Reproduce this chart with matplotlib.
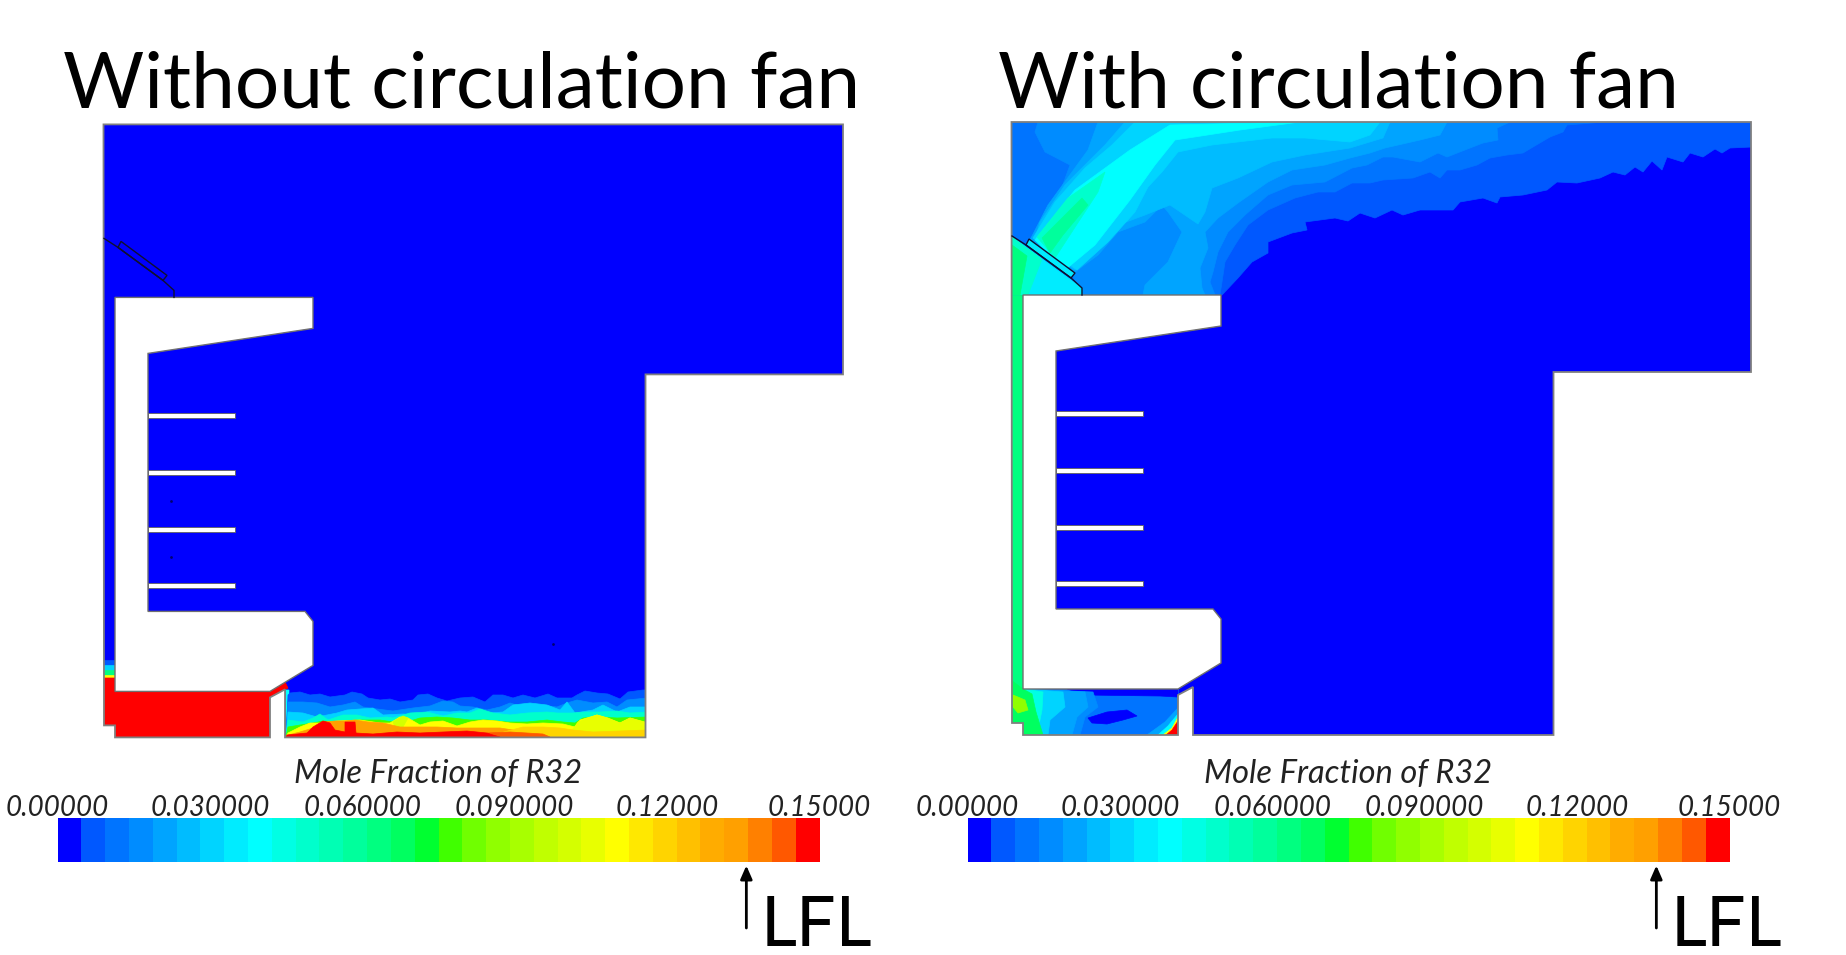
#!/usr/bin/env python3
# Mole fraction of R32 in a room, with and without a circulation fan
import matplotlib
matplotlib.use('Agg')
import matplotlib.pyplot as plt
from matplotlib.patches import Polygon
from matplotlib.colors import ListedColormap
import numpy as np

######################################################################
# Data (outlines in picture pixels of right panel)
######################################################################

PANEL_TITLES = ["Without circulation fan", "With circulation fan"]
SCALE_TITLE = "Mole Fraction of R32"
SCALE_TICKS = [0., 0.03, 0.06, 0.09, 0.12, 0.15]
SCALE_LABELS = ["0.00000", "0.030000", "0.060000", "0.090000", "0.12000",
                "0.15000"]
LFL_VALUE = 0.1356
SCALE_COLORS = [
    '#0000ff', '#0058ff', '#0074ff', '#008cff', '#00a4ff', '#00bcff',
    '#00d4ff', '#00ecff', '#00ffff', '#00ffe4', '#00ffcc', '#00ffb4',
    '#00ff9c', '#00ff80', '#00ff60', '#00ff30', '#40ff00', '#70ff00',
    '#90ff00', '#a8ff00', '#c0ff00', '#d4ff00', '#e8ff00', '#ffff00',
    '#ffe800', '#ffd400', '#ffc000', '#ffac00', '#ffa000', '#ff8000',
    '#ff5800', '#ff0000']

ROOM = [(1011.5, 122), (1751, 122), (1751, 372), (1553.5, 372),
        (1553.5, 735), (1193, 735), (1193, 687), (1178, 695), (1178, 735),
        (1023, 735), (1023, 723), (1012, 723)]
BLOCK = [(1023, 295), (1221, 295), (1221, 326), (1056, 351), (1056, 609),
         (1213, 609), (1221, 619), (1221, 663), (1178, 689), (1023, 689)]
SHELVES = [(1056, 1143, 411), (1056, 1143, 468), (1056, 1143, 525),
           (1056, 1143, 581)]
WEDGE_LINE = [(1012, 236), (1026, 245), (1071, 278), (1082, 288), (1082, 295)]
DUCT = [(1029, 239), (1075, 273), (1071, 278), (1026, 245)]

# Contours with the fan: (colour index, outline)
FAN_TOP = [
    (1, [(1752, 122), (1752, 147), (1730, 148), (1722, 153), (1715, 149),
         (1703, 157), (1690, 153), (1683, 162), (1667, 157), (1662, 170),
         (1652, 161), (1643, 172), (1635, 167), (1625, 175), (1613, 172),
         (1600, 178), (1577, 183), (1557, 182), (1547, 190), (1523, 195),
         (1500, 197), (1497, 203), (1483, 198), (1460, 202), (1453, 210),
         (1420, 210), (1403, 215), (1392, 210), (1375, 218), (1360, 213),
         (1348, 221), (1335, 218), (1305, 222), (1307, 230), (1292, 233),
         (1268, 242), (1268, 253), (1252, 262), (1238, 278), (1222, 295),
         (1011, 295), (1011, 122)]),
    (2, [(1605, 122), (1567, 125), (1563, 132), (1550, 137), (1533, 147),
         (1523, 153), (1507, 155), (1490, 158), (1477, 165), (1460, 170),
         (1447, 170), (1440, 178), (1430, 172), (1413, 178), (1383, 180),
         (1370, 183), (1352, 183), (1335, 192), (1318, 192), (1295, 198),
         (1268, 210), (1248, 225), (1235, 245), (1225, 262), (1222, 282),
         (1220, 295), (1011, 295), (1011, 122)]),
    (3, [(1510, 122), (1497, 128), (1498, 140), (1483, 143), (1470, 148),
         (1447, 157), (1438, 153), (1420, 162), (1393, 157), (1383, 157),
         (1367, 165), (1352, 168), (1325, 182), (1292, 185), (1268, 195),
         (1245, 215), (1228, 232), (1218, 252), (1213, 272), (1210, 282),
         (1215, 295), (1083, 295), (1042, 218), (1062, 187), (1070, 165),
         (1045, 152), (1035, 132), (1038, 122)]),
    (4, [(1098, 122), (1447, 122), (1440, 135), (1420, 140), (1385, 148),
         (1370, 153), (1350, 158), (1325, 165), (1292, 170), (1268, 182),
         (1238, 203), (1218, 218), (1205, 232), (1208, 248), (1200, 268),
         (1202, 288), (1205, 295), (1143, 295), (1145, 285), (1168, 262),
         (1182, 232), (1168, 212), (1162, 205), (1145, 222), (1118, 232),
         (1098, 255), (1075, 272), (1030, 240), (1048, 205), (1072, 172),
         (1088, 150)]),
    (5, [(1125, 122), (1390, 122), (1383, 138), (1350, 148), (1305, 155),
         (1272, 162), (1238, 178), (1212, 188), (1205, 212), (1198, 224),
         (1170, 205), (1145, 215), (1118, 225), (1098, 245), (1075, 270),
         (1035, 240), (1040, 222), (1065, 185), (1085, 165), (1105, 145)]),
    (6, [(1135, 122), (1380, 122), (1370, 135), (1350, 142), (1305, 138),
         (1272, 138), (1212, 145), (1178, 152), (1162, 172), (1148, 187),
         (1135, 212), (1108, 242), (1077, 270), (1033, 238), (1055, 202),
         (1085, 168), (1112, 145)]),
    (8, [(1130, 150), (1170, 125), (1300, 122), (1240, 130), (1175, 140),
         (1155, 165), (1130, 200), (1095, 245), (1065, 270), (1035, 240),
         (1075, 190)]),
    (10, [(1037, 237), (1068, 198), (1105, 172), (1098, 192), (1068, 238),
          (1055, 258)]),
    (12, [(1042, 238), (1082, 198), (1088, 205), (1063, 235), (1050, 253)]),
    (7, [(1012, 237), (1082, 288), (1082, 295), (1011, 295)]),
    (7, DUCT),
    (10, [(1012, 237), (1042, 259), (1028, 295), (1011, 295)]),
    (13, [(1012, 245), (1027, 256), (1020, 295), (1011, 295)]),
    (13, [(1011, 295), (1023, 295), (1023, 690), (1011, 690)]),
    (2, [(1023, 689), (1178, 689), (1178, 735), (1023, 735)]),
    (0, [(1067, 689), (1178, 689), (1178, 697), (1160, 696), (1085, 695)]),
    (3, [(1023, 689), (1093, 692), (1098, 707), (1085, 717), (1080, 735),
         (1023, 735)]),
    (4, [(1023, 689), (1085, 692), (1088, 707), (1077, 717), (1072, 735),
         (1023, 735)]),
    (6, [(1023, 689), (1063, 692), (1065, 707), (1050, 720), (1048, 735),
         (1023, 735)]),
    (9, [(1023, 689), (1043, 692), (1042, 710), (1037, 735), (1023, 735)]),
    (14, [(1011, 680), (1023, 689), (1032, 694), (1036, 712), (1043, 735),
          (1023, 735), (1023, 723), (1011, 723)]),
    (18, [(1013, 695), (1025, 700), (1028, 710), (1018, 713), (1013, 707)]),
    (0, [(1088, 718), (1107, 712), (1127, 710), (1137, 716), (1123, 720),
         (1107, 724), (1092, 723)]),
    (4, [(1178, 708), (1165, 722), (1147, 735), (1178, 735)]),
    (8, [(1178, 714), (1168, 726), (1158, 735), (1178, 735)]),
    (23, [(1178, 717), (1172, 728), (1163, 735), (1178, 735)]),
    (31, [(1178, 721), (1172, 730), (1166, 735), (1178, 735)]),
]

# Contours without the fan, picture pixels of left panel
NOFAN_FLOOR = [
    (1, [(288, 695), (290, 693), (300, 692), (310, 695), (320, 694),
         (330, 697), (345, 695), (352, 692), (362, 694), (368, 698),
         (380, 700), (390, 699), (400, 702), (413, 700), (418, 695),
         (428, 694), (437, 698), (447, 701), (460, 698), (473, 697),
         (485, 702), (493, 695), (503, 695), (513, 698), (523, 695),
         (535, 698), (548, 694), (557, 698), (572, 698), (577, 695),
         (585, 691), (597, 693), (608, 694), (620, 699), (628, 692),
         (643, 690), (647, 690), (647, 737), (286, 737)]),
    (3, [(288, 702), (303, 702), (317, 703), (330, 707), (343, 705),
         (355, 702), (363, 707), (377, 709), (393, 711), (413, 708),
         (430, 706), (443, 701), (453, 702), (460, 706), (473, 707),
         (487, 710), (500, 707), (510, 703), (523, 707), (540, 705),
         (557, 707), (567, 703), (577, 700), (593, 703), (607, 702),
         (617, 707), (627, 700), (647, 698), (647, 737), (286, 737)]),
    (6, [(288, 712), (303, 713), (317, 717), (337, 713), (347, 710),
         (360, 709), (373, 708), (383, 715), (403, 714), (417, 715),
         (430, 711), (450, 712), (460, 711), (467, 712), (477, 708),
         (490, 713), (503, 712), (513, 705), (530, 703), (547, 705),
         (560, 710), (567, 702), (575, 713), (593, 710), (603, 705),
         (617, 712), (630, 707), (647, 707), (647, 737), (286, 737)]),
    (10, [(288, 720), (303, 722), (313, 718), (320, 714), (328, 720),
          (343, 715), (357, 715), (370, 718), (387, 717), (393, 718),
          (410, 713), (427, 712), (443, 716), (457, 713), (470, 713),
          (480, 709), (493, 713), (510, 715), (527, 713), (547, 712),
          (557, 713), (573, 713), (585, 712), (600, 712), (617, 711),
          (630, 713), (647, 712), (647, 737), (286, 737)]),
    (16, [(288, 727), (300, 725), (313, 723), (323, 721), (335, 722),
          (357, 720), (380, 720), (393, 722), (407, 722), (420, 718),
          (437, 717), (453, 718), (470, 720), (487, 720), (507, 722),
          (527, 722), (547, 720), (563, 722), (575, 723), (583, 718),
          (600, 717), (617, 718), (647, 717), (647, 737), (286, 737)]),
    (23, [(288, 733), (300, 727), (310, 723), (322, 723), (337, 721),
          (360, 720), (380, 723), (390, 723), (400, 717), (408, 718),
          (420, 725), (430, 722), (443, 721), (457, 726), (470, 722),
          (483, 720), (497, 721), (510, 723), (527, 724), (543, 723),
          (563, 724), (575, 727), (580, 720), (597, 715), (607, 718),
          (620, 723), (630, 718), (647, 723), (647, 737), (286, 737)]),
    (21, [(393, 722), (403, 716), (408, 718), (403, 727), (395, 727)]),
    (22, [(578, 722), (597, 715), (608, 718), (620, 723), (630, 718),
          (645, 722), (647, 733), (570, 733)]),
    (28, [(288, 735), (300, 732), (313, 728), (325, 722), (335, 721),
          (345, 721), (355, 720), (368, 722), (383, 723), (400, 727),
          (420, 727), (437, 727), (457, 728), (477, 728), (500, 728),
          (513, 730), (500, 737), (286, 737)]),
    (25, [(500, 733), (523, 727), (543, 727), (560, 728), (573, 730),
          (593, 732), (647, 730), (647, 737), (500, 737)]),
    (30, [(487, 733), (510, 732), (527, 733), (543, 734), (550, 737),
          (487, 737)]),
    (31, [(287, 735), (297, 734), (307, 733), (313, 727), (323, 721),
          (330, 723), (335, 730), (345, 732), (345, 722), (355, 722),
          (356, 733), (373, 734), (397, 732), (420, 733), (443, 732),
          (467, 731), (477, 732), (487, 733), (493, 735), (500, 737),
          (286, 737)]),
]
NOFAN_CHANNEL = [
    (1, [(104, 660), (115, 660), (115, 690), (104, 690)]),
    (6, [(104, 665), (115, 665), (115, 690), (104, 690)]),
    (13, [(104, 670), (115, 670), (115, 690), (104, 690)]),
    (23, [(104, 675), (115, 675), (115, 690), (104, 690)]),
    (31, [(104, 678), (115, 678), (115, 690), (271, 690), (285, 682),
          (288, 688), (271, 698), (271, 737), (115, 737), (115, 726),
          (104, 726)]),
    (8, [(286, 690), (289, 690), (289, 725), (286, 730)]),
]
NOFAN_SPECKS = [(171, 501), (171, 557), (553, 644)]


######################################################################
# Drawing
######################################################################

def shift(points, dx, dy):
    return [(x + dx, y + dy) for x, y in points]

def draw_room(ax, bands, dx, dy):
    room = Polygon(shift(ROOM, dx, dy), closed=True, fc=SCALE_COLORS[0],
                   ec='none', zorder=1)
    ax.add_patch(room)
    for index, outline in bands:
        band = Polygon(outline, closed=True, fc=SCALE_COLORS[index],
                       ec=SCALE_COLORS[index], lw=0.5, zorder=2)
        ax.add_patch(band)
        band.set_clip_path(room)
    # Walls and cabinet on top of the contours
    ax.add_patch(Polygon(shift(ROOM, dx, dy), closed=True, fc='none',
                         ec='#808080', lw=1.3, zorder=4))
    ax.add_patch(Polygon(shift(BLOCK, dx, dy), closed=True, fc='white',
                         ec='#707070', lw=1., zorder=3))
    for x0, x1, y in SHELVES:
        ax.add_patch(Polygon(shift([(x0, y), (x1, y), (x1, y + 5), (x0, y + 5)],
                                   dx, dy),
                             closed=True, fc='white', ec='#606060', lw=0.6,
                             zorder=3))
    x, y = zip(*shift(WEDGE_LINE, dx, dy))
    ax.plot(x, y, color='#101030', lw=1., zorder=4)
    ax.add_patch(Polygon(shift(DUCT, dx, dy), closed=True, fc='none',
                         ec='#101030', lw=1., zorder=4))

def draw_scale(fig, left):
    w, h = fig.get_size_inches() * fig.dpi
    ax = fig.add_axes([left / w, 1. - 862. / h, 762. / w, 44. / h])
    edges = np.linspace(0., 0.15, len(SCALE_COLORS) + 1)
    ax.pcolormesh(edges, [0., 1.], np.arange(len(SCALE_COLORS))[None, :],
                  cmap=ListedColormap(SCALE_COLORS), shading='flat',
                  antialiased=False)
    ax.set_xlim(0., 0.15)
    ax.set_ylim(0., 1.)
    ax.set_yticks([])
    ax.set_xticks(SCALE_TICKS, SCALE_LABELS, style='italic', family='Lato',
                  fontsize=20, color='#222222')
    ax.tick_params(axis='x', length=0, pad=-2.5, top=True, bottom=False,
                   labeltop=True, labelbottom=False)
    for s in ax.spines.values():
        s.set_visible(False)
    ax.text(0.5, 1.66, SCALE_TITLE, transform=ax.transAxes, ha='center',
            va='bottom', style='italic', family='Lato', fontsize=23.5,
            color='#222222')
    ax.annotate('', xy=(LFL_VALUE, -0.08), xytext=(LFL_VALUE, -1.5),
                xycoords=('data', 'axes fraction'),
                textcoords=('data', 'axes fraction'),
                arrowprops=dict(arrowstyle='-|>,head_width=0.35,head_length=0.8',
                                color='black', lw=2, shrinkA=0, shrinkB=0))
    ax.text(0.1385, -0.76, 'LFL', transform=ax.get_xaxis_transform(),
            ha='left', va='top', family='Lato', fontsize=50.5, color='black',
            clip_on=False)

def main():
    fig = plt.figure(figsize=(18.46, 9.55), dpi=100)
    ax = fig.add_axes([0., 0., 1., 1.])
    ax.set_xlim(0, 1846)
    ax.set_ylim(955, 0)
    ax.axis('off')

    # The no-fan contours are already in left panel pixels
    draw_room(ax, NOFAN_CHANNEL + NOFAN_FLOOR, -908, 2.4)
    draw_room(ax, FAN_TOP, 0, 0)
    sx, sy = zip(*NOFAN_SPECKS)
    ax.scatter(sx, sy, s=4, color='#000070', marker='o', lw=0, zorder=3)

    ax.text(63, 108, PANEL_TITLES[0], family='Lato', fontsize=56.5,
            color='black', ha='left', va='baseline')
    ax.text(998, 108, PANEL_TITLES[1], family='Lato', fontsize=56.5,
            color='black', ha='left', va='baseline')

    draw_scale(fig, 57.5)
    draw_scale(fig, 967.5)
    fig.savefig('out.png', dpi=100)

if __name__ == '__main__':
    main()
